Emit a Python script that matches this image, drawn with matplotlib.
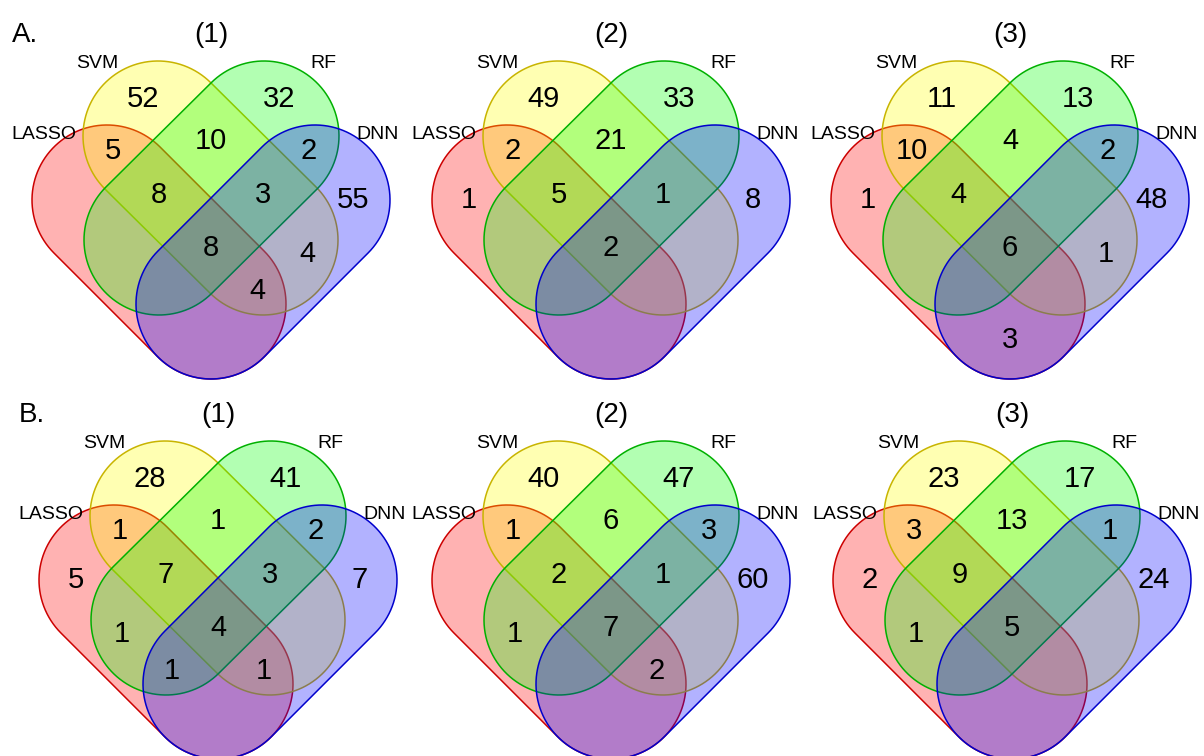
import numpy as np
import matplotlib
matplotlib.use("Agg")
import matplotlib.pyplot as plt
from matplotlib.patches import Polygon

plt.rcParams["font.family"] = ["Liberation Sans", "DejaVu Sans"]

DPI = 100

# ---- data -------------------------------------------------------------
set_names = ["LASSO", "SVM", "RF", "DNN"]
regions = ["L", "S", "R", "D", "LS", "LR", "LD", "SR", "SD", "RD",
           "LSR", "LSD", "LRD", "SRD", "LSRD"]

row_letters = ["A.", "B."]
panel_titles = ["(1)", "(2)", "(3)"]

counts_a1 = [0, 52, 32, 55, 5, 0, 0, 10, 4, 2, 8, 4, 0, 3, 8]
counts_a2 = [1, 49, 33, 8, 2, 0, 0, 21, 0, 0, 5, 0, 0, 1, 2]
counts_a3 = [1, 11, 13, 48, 10, 0, 3, 4, 1, 2, 4, 0, 0, 0, 6]
counts_b1 = [5, 28, 41, 7, 1, 1, 0, 1, 0, 2, 7, 1, 1, 3, 4]
counts_b2 = [0, 40, 47, 60, 1, 1, 0, 6, 0, 3, 2, 2, 0, 1, 7]
counts_b3 = [2, 23, 17, 24, 3, 1, 0, 13, 0, 1, 9, 0, 0, 0, 5]

panel_counts = [[counts_a1, counts_a2, counts_a3],
                [counts_b1, counts_b2, counts_b3]]

# ---- layout (pixels) --------------------------------------------------
row_offsets = [0, 380]
panel_centers = [[211, 611, 1010], [218, 611, 1012]]

RADIUS = 75
# cap centres of each stadium, x relative to panel centre
shape_caps = {
    "LASSO": ((-104, 200), (0, 304)),
    "SVM": ((-53, 136), (52, 240)),
    "RF": ((53, 136), (-52, 240)),
    "DNN": ((104, 200), (0, 304)),
}
face_colors = {"LASSO": "#FF0000", "SVM": "#FFFF00", "RF": "#00FF00", "DNN": "#0000FF"}
edge_colors = {"LASSO": "#CC0000", "SVM": "#C8B400", "RF": "#00B000", "DNN": "#0000CC"}

name_pos = {"LASSO": (-167, 132), "SVM": (-114, 61), "RF": (112, 61), "DNN": (167, 132)}

region_pos = {
    "L": (-142, 198), "S": (-68, 97), "R": (68, 97), "D": (142, 198),
    "LS": (-98, 149), "LR": (-96, 252), "LD": (0, 338),
    "SR": (0, 139), "SD": (96, 252), "RD": (98, 149),
    "LSR": (-52, 193), "LSD": (46, 289), "LRD": (-46, 289), "SRD": (52, 193),
    "LSRD": (0, 246),
}


def stadium(c1, c2, r, n=60):
    c1 = np.asarray(c1, float)
    c2 = np.asarray(c2, float)
    u = (c2 - c1) / np.linalg.norm(c2 - c1)
    v = np.array([-u[1], u[0]])
    t1 = np.linspace(-np.pi / 2, np.pi / 2, n)
    t2 = np.linspace(np.pi / 2, 3 * np.pi / 2, n)
    end2 = c2 + r * (np.cos(t1)[:, None] * u + np.sin(t1)[:, None] * v)
    end1 = c1 + r * (np.cos(t2)[:, None] * u + np.sin(t2)[:, None] * v)
    return np.vstack([end2, end1])


def put_text(ax, x, y, s, size, ha="center"):
    # y is the visual centre of capital letters / digits
    half_cap = 0.716 * size * DPI / 72 / 2
    ax.text(x, y + half_cap, s, fontsize=size, ha=ha, va="baseline", color="black")


fig = plt.figure(figsize=(12.04, 7.56), dpi=DPI)
ax = fig.add_axes([0, 0, 1, 1])
ax.set_xlim(0, 1204)
ax.set_ylim(756, 0)
ax.axis("off")

for i, row in enumerate(panel_counts):
    y0 = row_offsets[i]
    put_text(ax, 12 + 7 * i, 32 + y0, row_letters[i], 20, ha="left")
    for j, counts in enumerate(row):
        cx = panel_centers[i][j]
        for name in set_names:
            (x1, y1), (x2, y2) = shape_caps[name]
            pts = stadium((cx + x1, y0 + y1), (cx + x2, y0 + y2), RADIUS)
            ax.add_patch(Polygon(pts, closed=True, facecolor=face_colors[name],
                                 alpha=0.3, edgecolor="none"))
            ax.add_patch(Polygon(pts, closed=True, facecolor="none",
                                 edgecolor=edge_colors[name], linewidth=1.1))
        put_text(ax, cx, 32 + y0, panel_titles[j], 20)
        for name in set_names:
            nx, ny = name_pos[name]
            put_text(ax, cx + nx, ny + y0, name, 14)
        for reg, val in zip(regions, counts):
            if val == 0:
                continue
            rx, ry = region_pos[reg]
            put_text(ax, cx + rx, ry + y0, str(val), 21)

fig.savefig("out.png", dpi=DPI)
